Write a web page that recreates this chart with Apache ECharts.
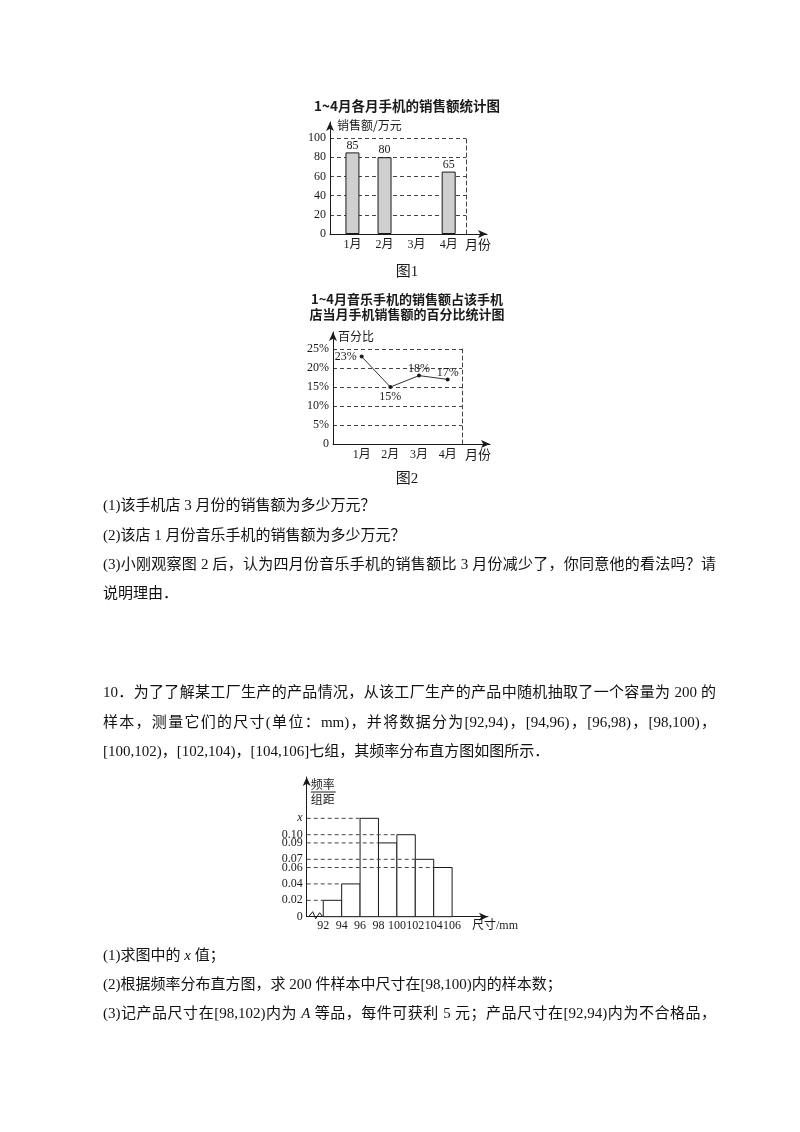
<!DOCTYPE html>
<html>
<head>
<meta charset="utf-8">
<script src="https://cdn.jsdelivr.net/npm/echarts@6/dist/echarts.min.js"></script>
<style>
  html, body { margin: 0; padding: 0; background: #fff; }
  #chart { position: absolute; left: 0; top: 0; width: 800px; height: 1132px; }
  .ln { position: absolute; left: 103px; font-family: "Liberation Serif", "Noto Sans CJK SC"; font-size: 15px; line-height: 22px; color: #111; white-space: nowrap; }
  .full { width: 613px; text-align: justify; text-align-last: justify; }
  i { font-style: italic; }
</style>
</head>
<body>
<div id="chart"></div>
<div class="ln" style="top:494px">(1)该手机店 3 月份的销售额为多少万元？</div>
<div class="ln" style="top:524px">(2)该店 1 月份音乐手机的销售额为多少万元？</div>
<div class="ln full" style="top:553px">(3)小刚观察图 2 后，认为四月份音乐手机的销售额比 3 月份减少了，你同意他的看法吗？请</div>
<div class="ln" style="top:582px">说明理由．</div>
<div class="ln full" style="top:681px">10．为了了解某工厂生产的产品情况，从该工厂生产的产品中随机抽取了一个容量为 200 的</div>
<div class="ln full" style="top:711px">样本，测量它们的尺寸(单位：mm)，并将数据分为[92,94)，[94,96)，[96,98)，[98,100)，</div>
<div class="ln" style="top:740px">[100,102)，[102,104)，[104,106]七组，其频率分布直方图如图所示．</div>
<div class="ln" style="top:944px">(1)求图中的 <i>x</i> 值；</div>
<div class="ln" style="top:973px">(2)根据频率分布直方图，求 200 件样本中尺寸在[98,100)内的样本数；</div>
<div class="ln full" style="top:1002px">(3)记产品尺寸在[98,102)内为 <i>A</i> 等品，每件可获利 5 元；产品尺寸在[92,94)内为不合格品，</div>
<script>
// ---- Data: Figure 1 (monthly sales, 万元) ----
const salesMonths = ['1月', '2月', '3月', '4月'];
const salesValues = [85, 80, null, 65];
const salesTicks = [0, 20, 40, 60, 80, 100];

// ---- Data: Figure 2 (music phone share, %) ----
const pctMonths = ['1月', '2月', '3月', '4月'];
const pctValues = [23, 15, 18, 17];
const pctTicks = [0, 5, 10, 15, 20, 25];

// ---- Data: histogram (size in mm, frequency / group width) ----
const sizeEdges = [92, 94, 96, 98, 100, 102, 104, 106];
const freqDensity = [0.02, 0.04, 0.12, 0.09, 0.10, 0.07, 0.06];
const freqTicks = [0, 0.02, 0.04, 0.06, 0.07, 0.09, 0.10, 0.12];
const freqTickLabels = ['0', '0.02', '0.04', '0.06', '0.07', '0.09', '0.10', 'x'];

// ---- Build ----
const SERIF = '"Liberation Serif", "Noto Sans CJK SC"';
const CJK = '"Noto Sans CJK SC"';
const INK = '#1a1a1a';
const DASH = { color: '#444', width: 1, type: [4, 3] };
const arrowLine = { show: true, symbol: ['none', 'arrow'], symbolSize: [6, 9], lineStyle: { color: INK, width: 1 } };
const hidden = { axisLine: { show: false }, axisTick: { show: false }, axisLabel: { show: false }, splitLine: { show: false } };
const lbl = { color: INK, fontSize: 12, fontFamily: SERIF };

// chart 1 scale: value x with month number positions
const c1XMin = 0.3, c1FrameMax = 4.54, c1AxisMax = 5.2, c1YMax = 100, c1YAxisMax = 116.7;
// chart 2
const c2XMin = 0, c2FrameMax = 4.5, c2AxisMax = 5.48, c2YMax = 25, c2YAxisMax = 29.47;
// chart 3
const c3XMin = 90.2, c3XMax = 109.9, c3YMax = 0.1704;

const salesData = salesValues.map((v, i) => [i + 1, v]).filter(d => d[1] != null);
const pctData = pctValues.map((v, i) => [i + 1, v]);
const pctLabelPos = [
  { position: 'left', distance: 3 },
  { position: 'bottom', distance: 2 },
  { position: 'top', distance: -1 },
  { position: 'top', distance: -1 }
];
const histData = freqDensity.map((d, i) => [sizeEdges[i], sizeEdges[i + 1], d]);

const option = {
  animation: false,
  backgroundColor: '#fff',
  title: [
    { text: '1~4月各月手机的销售额统计图', left: 402, top: 94, textAlign: 'center',
      textStyle: { fontFamily: CJK, fontSize: 13.5, fontWeight: 'bold', color: INK } },
    { text: '图1', left: 402, top: 260, textAlign: 'center',
      textStyle: { fontFamily: SERIF, fontSize: 15, fontWeight: 'normal', color: INK } },
    { text: '1~4月音乐手机的销售额占该手机\n店当月手机销售额的百分比统计图', left: 402, top: 287, textAlign: 'center',
      textStyle: { fontFamily: CJK, fontSize: 13, fontWeight: 'bold', color: INK, lineHeight: 15 } },
    { text: '图2', left: 402, top: 467, textAlign: 'center',
      textStyle: { fontFamily: SERIF, fontSize: 15, fontWeight: 'normal', color: INK } }
  ],
  grid: [
    { left: 330, top: 138, width: 136, height: 96 },   // 0: chart1 frame
    { left: 330, top: 122, width: 157, height: 112 },  // 1: chart1 axes
    { left: 333, top: 349, width: 129, height: 95 },   // 2: chart2 frame
    { left: 333, top: 332, width: 157, height: 112 },  // 3: chart2 axes
    { left: 306.7, top: 777, width: 181.3, height: 139.7 } // 4: histogram
  ],
  xAxis: [
    { gridIndex: 0, type: 'value', min: c1XMin, max: c1FrameMax,
      axisLine: { show: false }, axisTick: { show: false }, splitLine: { show: false },
      axisLabel: Object.assign({ customValues: [1, 2, 3, 4], margin: 5,
        formatter: v => salesMonths[Math.round(v) - 1] }, lbl) },
    Object.assign({ gridIndex: 1, type: 'value', min: c1XMin, max: c1AxisMax }, hidden, {
      axisLine: arrowLine, name: '月份', nameLocation: 'end', nameGap: -9,
      nameTextStyle: { fontFamily: SERIF, fontSize: 13, color: INK, align: 'center', verticalAlign: 'top', padding: [5, 0, 0, 0] } }),
    { gridIndex: 2, type: 'value', min: c2XMin, max: c2FrameMax,
      axisLine: { show: false }, axisTick: { show: false }, splitLine: { show: false },
      axisLabel: Object.assign({ customValues: [1, 2, 3, 4], margin: 5,
        formatter: v => pctMonths[Math.round(v) - 1] }, lbl) },
    Object.assign({ gridIndex: 3, type: 'value', min: c2XMin, max: c2AxisMax }, hidden, {
      axisLine: arrowLine, name: '月份', nameLocation: 'end', nameGap: -12,
      nameTextStyle: { fontFamily: SERIF, fontSize: 13, color: INK, align: 'center', verticalAlign: 'top', padding: [5, 0, 0, 0] } }),
    { gridIndex: 4, type: 'value', min: c3XMin, max: c3XMax,
      axisLine: arrowLine, axisTick: { show: false }, splitLine: { show: false },
      axisLabel: Object.assign({ customValues: sizeEdges, margin: 3 }, lbl),
      name: '尺寸/mm', nameLocation: 'end', nameGap: -16,
      nameTextStyle: { fontFamily: SERIF, fontSize: 12, color: INK, align: 'left', verticalAlign: 'top', padding: [3, 0, 0, 0] } }
  ],
  yAxis: [
    { gridIndex: 0, type: 'value', min: 0, max: c1YMax, interval: 20,
      axisLine: { show: false }, axisTick: { show: false },
      splitLine: { show: true, lineStyle: DASH },
      axisLabel: Object.assign({ customValues: salesTicks, margin: 4 }, lbl) },
    Object.assign({ gridIndex: 0, type: 'value', position: 'right', min: 0, max: c1YMax }, hidden,
      { axisLine: { show: true, lineStyle: DASH } }),
    Object.assign({ gridIndex: 1, type: 'value', min: 0, max: c1YAxisMax }, hidden, {
      axisLine: arrowLine, name: '销售额/万元', nameLocation: 'end', nameGap: -3,
      nameTextStyle: { fontFamily: CJK, fontSize: 12, color: INK, align: 'left', verticalAlign: 'middle', padding: [0, 0, 0, 7] } }),
    { gridIndex: 2, type: 'value', min: 0, max: c2YMax, interval: 5,
      axisLine: { show: false }, axisTick: { show: false },
      splitLine: { show: true, lineStyle: DASH },
      axisLabel: Object.assign({ customValues: pctTicks, margin: 4,
        formatter: v => v === 0 ? '0' : v + '%' }, lbl) },
    Object.assign({ gridIndex: 2, type: 'value', position: 'right', min: 0, max: c2YMax }, hidden,
      { axisLine: { show: true, lineStyle: DASH } }),
    Object.assign({ gridIndex: 3, type: 'value', min: 0, max: c2YAxisMax }, hidden, {
      axisLine: arrowLine, name: '百分比', nameLocation: 'end', nameGap: -4,
      nameTextStyle: { fontFamily: CJK, fontSize: 12, color: INK, align: 'left', verticalAlign: 'middle', padding: [0, 0, 0, 5] } }),
    { gridIndex: 4, type: 'value', min: 0, max: c3YMax,
      axisLine: arrowLine, axisTick: { show: false }, splitLine: { show: false },
      axisLabel: Object.assign({ customValues: freqTicks, margin: 4,
        formatter: v => {
          const k = freqTicks.findIndex(t => Math.abs(t - v) < 1e-9);
          const s = k >= 0 ? freqTickLabels[k] : '';
          return s === 'x' ? '{i|x}' : s;
        },
        rich: { i: { fontStyle: 'italic', fontFamily: SERIF, fontSize: 12, color: INK } } }, lbl),
      name: '{n|频率}\n{l| }\n{d|组距}', nameLocation: 'end', nameGap: -15,
      nameTextStyle: { align: 'left', verticalAlign: 'middle', padding: [0, 0, 0, 4],
        rich: {
          n: { fontFamily: CJK, fontSize: 12, lineHeight: 13, color: INK },
          l: { width: 25, height: 1, lineHeight: 2, fontSize: 1, backgroundColor: INK },
          d: { fontFamily: CJK, fontSize: 12, lineHeight: 13, color: INK }
        } } }
  ],
  series: [
    { type: 'bar', xAxisIndex: 0, yAxisIndex: 0, data: salesData, barWidth: 14,
      itemStyle: { color: '#cfcfcf', borderColor: INK, borderWidth: 1 },
      label: { show: true, position: 'top', distance: 1, color: INK, fontSize: 12, fontFamily: SERIF,
        formatter: p => p.value[1] } },
    { type: 'line', xAxisIndex: 2, yAxisIndex: 3, data: pctData.map((d, i) => ({ value: d, label: pctLabelPos[i] })),
      symbol: 'circle', symbolSize: 4, itemStyle: { color: INK },
      lineStyle: { color: '#333', width: 1 },
      label: { show: true, color: INK, fontSize: 12, fontFamily: SERIF, formatter: p => p.value[1] + '%' } },
    { type: 'custom', xAxisIndex: 4, yAxisIndex: 6, data: histData,
      renderItem: (params, api) => {
        const x0 = api.value(0), x1 = api.value(1), h = api.value(2);
        const tl = api.coord([x0, h]);
        const br = api.coord([x1, 0]);
        const a = api.coord([c3XMin, h]);
        const children = [
          { type: 'rect', shape: { x: tl[0], y: tl[1], width: br[0] - tl[0], height: br[1] - tl[1] },
            style: { fill: '#fff', stroke: INK, lineWidth: 1 } },
          { type: 'line', shape: { x1: a[0], y1: a[1], x2: tl[0], y2: tl[1] },
            style: { stroke: '#444', lineWidth: 1, lineDash: [4, 3] } }
        ];
        if (params.dataIndex === 0) {
          const o = api.coord([c3XMin, 0]);
          children.push({ type: 'polyline',
            shape: { points: [[o[0] + 2, o[1]], [o[0] + 6, o[1] - 5], [o[0] + 9, o[1] + 2], [o[0] + 13, o[1] - 4], [o[0] + 16, o[1]]] },
            style: { stroke: INK, lineWidth: 1, fill: null } });
        }
        return { type: 'group', children };
      } }
  ]
};

const chart = echarts.init(document.getElementById('chart'), null, { renderer: 'canvas' });
chart.setOption(option);
</script>
</body>
</html>
